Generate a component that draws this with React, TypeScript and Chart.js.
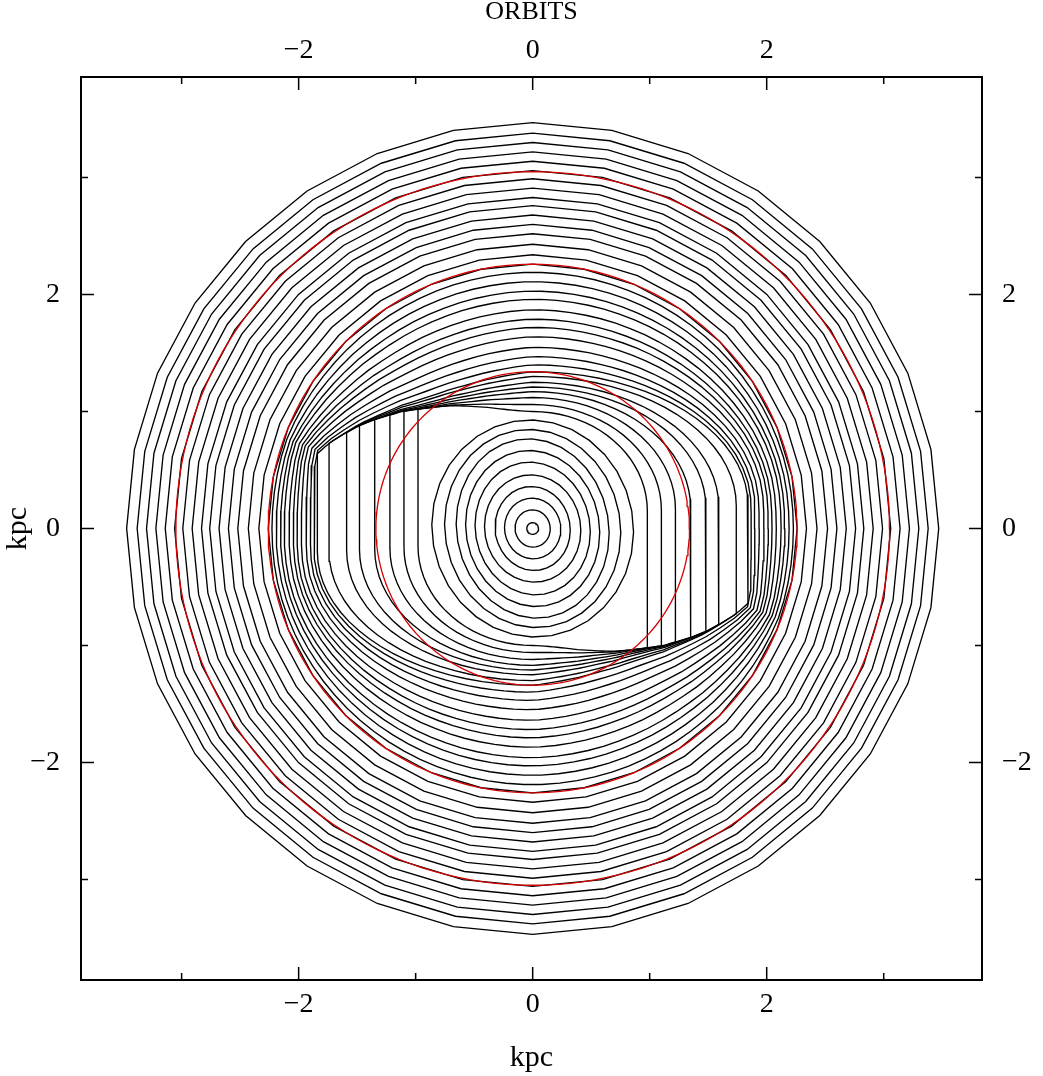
import React, { useEffect, useRef } from 'react';
import { Chart, registerables } from 'chart.js';

Chart.register(...registerables);

// ---- data (kpc) ----
const tickValues = [-3, -2, -1, 0, 1, 2, 3];
const labelValues = [-2, 0, 2];

// inner oval orbits: half-extent along x and along y
const ringA = [0.05, 0.15, 0.24, 0.32, 0.41, 0.49, 0.57, 0.65, 0.75, 0.86];
const ringB = [0.05, 0.16, 0.26, 0.36, 0.46, 0.57, 0.67, 0.77, 0.85, 0.93];

// bar orbits: x position of the straight side, height at x = 0
const barA = [0.98, 1.1, 1.22, 1.35, 1.48, 1.59, 1.74, 1.84];
const barB = [1.0, 1.06, 1.12, 1.17, 1.21, 1.25, 1.3, 1.34];

// upper shock ridge (the lower one is its point reflection)
const shockX = [-1.95, -1.84, -1.74, -1.59, -1.48, -1.35, -1.22, -1.12, -0.98, -0.7, -0.4, 0];
const shockY = [0.52, 0.64, 0.73, 0.82, 0.88, 0.93, 0.97, 1.0, 1.02, 1.06, 1.08, 1.09];

// orbits wrapping the bar: height at x = 0
const transB = [1.4, 1.47, 1.55, 1.64, 1.72, 1.79, 1.87, 1.96, 2.03, 2.11, 2.19];

// outer near-circular orbits: radius
const outerR = [2.26, 2.34, 2.43, 2.52, 2.6, 2.68, 2.76, 2.83, 2.91, 2.99, 3.06, 3.14, 3.22, 3.3, 3.38, 3.47];

// red reference circles
const resonanceR = [1.34, 2.26, 3.05];

type P = { x: number; y: number };

function shockAt(x: number): number {
  if (x <= shockX[0]) return shockY[0];
  for (let i = 0; i < shockX.length - 1; i++) {
    if (x <= shockX[i + 1]) {
      const f = (x - shockX[i]) / (shockX[i + 1] - shockX[i]);
      return shockY[i] + f * (shockY[i + 1] - shockY[i]);
    }
  }
  return shockY[shockY.length - 1];
}

function ringOrbit(a: number, b: number): P[] {
  const N = 32;
  const rot = (10 * Math.PI) / 180;
  const pts: P[] = [];
  for (let k = 0; k <= N; k++) {
    const t = (2 * Math.PI * k) / N;
    const x0 = a * Math.cos(t);
    const y0 = b * Math.sin(t);
    pts.push({ x: x0 * Math.cos(rot) - y0 * Math.sin(rot), y: x0 * Math.sin(rot) + y0 * Math.cos(rot) });
  }
  return pts;
}

function barOrbit(a: number, b: number): P[] {
  const ys = shockAt(-a);
  const s0 = shockAt(0);
  const c = 0.15 * b;
  const half: P[] = [];
  half.push({ x: -a, y: -c });
  half.push({ x: -a, y: ys });
  const n2 = 28;
  for (let k = 1; k <= n2; k++) {
    const t = k / n2;
    const x = -a + a * t;
    const w = t * t * (3 - 2 * t) * (0.4 + 0.6 * t);
    half.push({ x, y: shockAt(x) + (b - s0) * w });
  }
  const n3 = 20;
  for (let k = 1; k <= n3; k++) {
    const phi = (Math.PI / 2) * (1 - k / n3);
    half.push({ x: a * Math.cos(phi), y: c + (b - c) * Math.sin(phi) });
  }
  const pts = half.slice();
  for (let i = 1; i < half.length; i++) pts.push({ x: -half[i].x, y: -half[i].y });
  return pts;
}

function rayRadius(poly: P[], th: number): number {
  const dx = Math.cos(th);
  const dy = Math.sin(th);
  let best = 0;
  for (let i = 0; i < poly.length - 1; i++) {
    const p = poly[i];
    const q = poly[i + 1];
    const ex = q.x - p.x;
    const ey = q.y - p.y;
    const den = dx * ey - dy * ex;
    if (Math.abs(den) < 1e-12) continue;
    const t = (p.x * ey - p.y * ex) / den;
    const s = (p.x * dy - p.y * dx) / den;
    if (s >= -1e-9 && s <= 1 + 1e-9 && t > 0) best = Math.max(best, t);
  }
  return best;
}

function transOrbit(base: P[], b: number, rOut: number): P[] {
  const N = 90;
  const top = rayRadius(base, Math.PI / 2);
  const f = (b - top) / (rOut - top);
  const pts: P[] = [];
  for (let k = 0; k <= N; k++) {
    const th = (2 * Math.PI * k) / N;
    const rb = rayRadius(base, th);
    const r = rb + f * (rOut - rb);
    pts.push({ x: r * Math.cos(th), y: r * Math.sin(th) });
  }
  return pts;
}

function circle(r: number, n: number): P[] {
  const pts: P[] = [];
  for (let k = 0; k <= n; k++) {
    const t = (2 * Math.PI * k) / n;
    pts.push({ x: r * Math.cos(t), y: r * Math.sin(t) });
  }
  return pts;
}

const SERIF = "'Liberation Serif', 'Times New Roman', serif";

const innerTicks = {
  id: 'innerTicks',
  afterDatasetsDraw(chart: any) {
    const { ctx, chartArea, scales } = chart;
    const { left, right, top, bottom } = chartArea;
    ctx.save();
    ctx.strokeStyle = '#000';
    ctx.lineWidth = 1.5;
    ctx.beginPath();
    tickValues.forEach((v) => {
      const len = v % 2 === 0 ? 13 : 7;
      const px = scales.x.getPixelForValue(v);
      ctx.moveTo(px, bottom);
      ctx.lineTo(px, bottom - len);
      ctx.moveTo(px, top);
      ctx.lineTo(px, top + len);
      const py = scales.y.getPixelForValue(v);
      ctx.moveTo(left, py);
      ctx.lineTo(left + len, py);
      ctx.moveTo(right, py);
      ctx.lineTo(right - len, py);
    });
    ctx.stroke();
    ctx.restore();
  },
};

function labelText(v: number): string {
  if (!labelValues.includes(v)) return '';
  return v < 0 ? '\u2212' + Math.abs(v) : String(v);
}

function axis(position: string, min: number, max: number, pad: number, size: number, title?: any) {
  const horizontal = position === 'top' || position === 'bottom';
  return {
    type: 'linear',
    position,
    min,
    max,
    grid: { display: false, drawTicks: false },
    border: { display: true, color: '#000', width: 2 },
    afterBuildTicks: (s: any) => {
      s.ticks = tickValues.map((v) => ({ value: v }));
    },
    afterFit: (s: any) => {
      if (horizontal) s.height = size;
      else s.width = size;
    },
    ticks: {
      autoSkip: false,
      maxRotation: 0,
      padding: pad,
      color: '#000',
      font: { family: SERIF, size: 28 },
      callback: (v: any) => labelText(Number(v)),
    },
    title: title || { display: false },
  };
}

export default function App() {
  const ref = useRef<HTMLCanvasElement | null>(null);
  useEffect(() => {
    if (!ref.current) return;
    const datasets: any[] = [];
    const line = (data: P[], color: string, width: number) => ({
      data,
      showLine: true,
      borderColor: color,
      borderWidth: width,
      pointRadius: 0,
      pointHoverRadius: 0,
      fill: false,
      tension: 0,
    });
    resonanceR.forEach((r) => datasets.push(line(circle(r, 180), 'rgb(215,0,0)', 1.3)));
    ringA.forEach((a, i) => datasets.push(line(ringOrbit(a, ringB[i]), '#000', 1.35)));
    const bars = barA.map((a, i) => barOrbit(a, barB[i]));
    bars.forEach((p) => datasets.push(line(p, '#000', 1.35)));
    const base = bars[bars.length - 1];
    transB.forEach((b) => datasets.push(line(transOrbit(base, b, outerR[0]), '#000', 1.35)));
    outerR.forEach((r) => datasets.push(line(circle(r, 32), '#000', 1.35)));

    const chart = new Chart(ref.current, {
      type: 'scatter',
      data: { datasets },
      plugins: [innerTicks],
      options: {
        animation: false,
        responsive: false,
        devicePixelRatio: 1,
        layout: { padding: 0 },
        plugins: { legend: { display: false }, tooltip: { enabled: false }, title: { display: false } },
        scales: {
          x: axis('bottom', -3.86, 3.84, 8, 96, {
            display: true,
            text: 'kpc',
            color: '#000',
            padding: 0,
            font: { family: SERIF, size: 30 },
          }),
          x2: axis('top', -3.86, 3.84, 10, 77, {
            display: true,
            text: 'ORBITS',
            color: '#000',
            padding: 0,
            font: { family: SERIF, size: 26, lineHeight: 0.9 },
          }),
          y: axis('left', -3.86, 3.86, 21, 81, {
            display: true,
            text: 'kpc',
            color: '#000',
            padding: 0,
            font: { family: SERIF, size: 30 },
          }),
          y2: axis('right', -3.86, 3.86, 20, 61),
        },
      } as any,
    });
    return () => chart.destroy();
  }, []);
  return (
    <div style={{ position: 'fixed', left: 0, top: 0, width: 1043, height: 1076, background: '#fff' }}>
      <canvas ref={ref} width={1043} height={1076} style={{ display: 'block' }} />
    </div>
  );
}
